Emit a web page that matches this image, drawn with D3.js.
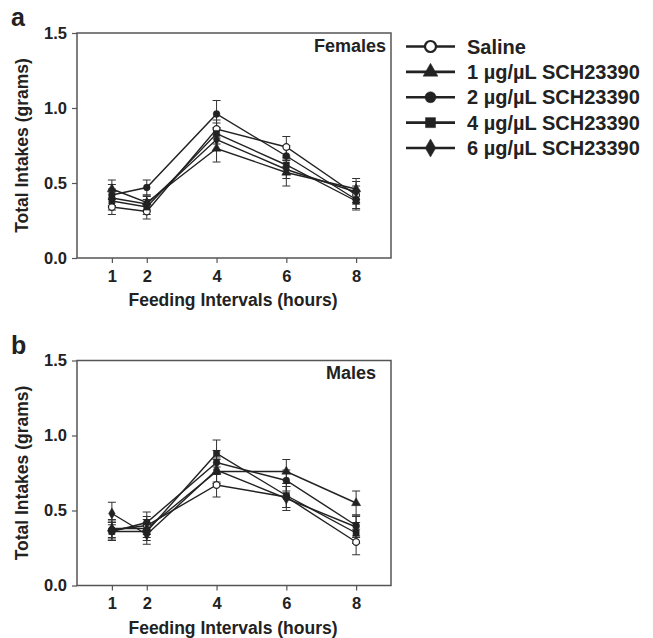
<!DOCTYPE html>
<html>
<head>
<meta charset="utf-8">
<script src="https://cdn.jsdelivr.net/npm/d3@7"></script>
<style>
  html, body { margin: 0; padding: 0; background: #fff; }
  svg { display: block; }
  text { font-family: "Liberation Sans", Arial, sans-serif; font-weight: bold; fill: #222; }
</style>
</head>
<body>
<svg id="chart" width="653" height="638"></svg>
<script>
// Data
const hours = [1, 2, 4, 6, 8];
const yTicks = [0, 0.5, 1.0, 1.5];
const seriesNames = ["Saline", "1 µg/µL SCH23390", "2 µg/µL SCH23390", "4 µg/µL SCH23390", "6 µg/µL SCH23390"];

// Females (panel a), one row per series
const femaleMeans = [
  [0.34, 0.31, 0.86, 0.74, 0.42],
  [0.46, 0.37, 0.73, 0.57, 0.46],
  [0.42, 0.47, 0.96, 0.68, 0.39],
  [0.38, 0.34, 0.83, 0.62, 0.38],
  [0.40, 0.36, 0.79, 0.59, 0.44]
];
const femaleErrors = [
  [0.05, 0.05, 0.06, 0.07, 0.06],
  [0.06, 0.05, 0.09, 0.09, 0.07],
  [0.07, 0.05, 0.09, 0.07, 0.06],
  [0.06, 0.05, 0.07, 0.06, 0.06],
  [0.06, 0.05, 0.07, 0.06, 0.07]
];

// Males (panel b)
const maleMeans = [
  [0.37, 0.40, 0.67, 0.59, 0.29],
  [0.38, 0.38, 0.76, 0.76, 0.55],
  [0.36, 0.42, 0.82, 0.70, 0.40],
  [0.36, 0.36, 0.88, 0.60, 0.35],
  [0.48, 0.34, 0.77, 0.58, 0.39]
];
const maleErrors = [
  [0.06, 0.06, 0.08, 0.07, 0.085],
  [0.06, 0.06, 0.08, 0.08, 0.08],
  [0.06, 0.07, 0.08, 0.07, 0.07],
  [0.06, 0.06, 0.09, 0.08, 0.07],
  [0.075, 0.065, 0.08, 0.08, 0.07]
];

// marker per series: open circle, triangle, circle, square, diamond
const SYMBOLS = [d3.symbolCircle, d3.symbolTriangle, d3.symbolCircle, d3.symbolSquare, d3.symbolDiamond];
const OPEN = [true, false, false, false, false];
const INK = "#222";

const svg = d3.select("#chart");

function drawPanel(opts) {
  const { top, letter, sex, means, errors, sexRight } = opts;
  const left = 77, right = 391, height = 225;

  const x = d3.scaleLinear().domain([0, 9]).range([left, right]);
  const y = d3.scaleLinear().domain([0, 1.5]).range([top + height, top]);

  const g = svg.append("g");

  // frame
  g.append("rect")
    .attr("x", left).attr("y", top)
    .attr("width", right - left).attr("height", height)
    .attr("fill", "none").attr("stroke", "#555").attr("stroke-width", 1.5);

  // axes
  const yAxis = g.append("g")
    .attr("transform", `translate(${left},0)`)
    .call(d3.axisLeft(y).tickValues(yTicks).tickFormat(d3.format(".1f")).tickSize(5).tickPadding(5));
  const xAxis = g.append("g")
    .attr("transform", `translate(0,${top + height})`)
    .call(d3.axisBottom(x).tickValues(hours).tickSize(5).tickPadding(7));
  [xAxis, yAxis].forEach(a => {
    a.select(".domain").remove();
    a.selectAll("line").attr("stroke", "#555").attr("stroke-width", 1.2);
    a.selectAll("text").attr("font-size", 16.5).attr("fill", INK)
      .attr("font-family", "'Liberation Sans', Arial, sans-serif").attr("font-weight", "bold");
  });

  // axis titles
  g.append("text")
    .attr("x", 233).attr("y", top + height + 48)
    .attr("text-anchor", "middle").attr("font-size", 17.5)
    .text("Feeding Intervals (hours)");
  g.append("text")
    .attr("transform", `translate(28,${top + height / 2}) rotate(-90)`)
    .attr("text-anchor", "middle").attr("font-size", 17.5)
    .text("Total Intakes (grams)");

  // panel letter + sex label
  g.append("text").attr("x", 11).attr("y", top - 7)
    .attr("font-size", 25).text(letter);
  g.append("text").attr("x", sexRight).attr("y", top + 18.5)
    .attr("text-anchor", "end").attr("font-size", 18).text(sex);

  const line = d3.line().x((d, i) => x(hours[i])).y(d => y(d));

  // lines
  g.selectAll(".series-line")
    .data(means)
    .join("path")
    .attr("class", "series-line")
    .attr("d", d => line(d))
    .attr("fill", "none")
    .attr("stroke", INK)
    .attr("stroke-width", 1.4);

  // error bars
  means.forEach((row, s) => {
    const pts = row.map((m, i) => ({ h: hours[i], m, e: errors[s][i] }));
    const eb = g.append("g");
    eb.selectAll("line.v").data(pts).join("line").attr("class", "v")
      .attr("x1", d => x(d.h)).attr("x2", d => x(d.h))
      .attr("y1", d => y(d.m + d.e)).attr("y2", d => y(d.m - d.e))
      .attr("stroke", "#333").attr("stroke-width", 1);
    ["top", "bot"].forEach(k => {
      eb.selectAll("line." + k).data(pts).join("line").attr("class", k)
        .attr("x1", d => x(d.h) - 4).attr("x2", d => x(d.h) + 4)
        .attr("y1", d => y(k === "top" ? d.m + d.e : d.m - d.e))
        .attr("y2", d => y(k === "top" ? d.m + d.e : d.m - d.e))
        .attr("stroke", "#333").attr("stroke-width", 1);
    });
  });

  // markers
  means.forEach((row, s) => {
    const sym = d3.symbol().type(SYMBOLS[s]).size(SYMBOLS[s] === d3.symbolSquare ? 38 : 36);
    g.append("g").selectAll("path")
      .data(row)
      .join("path")
      .attr("transform", (d, i) => `translate(${x(hours[i])},${y(d)})`)
      .attr("d", sym)
      .attr("fill", OPEN[s] ? "#fff" : INK)
      .attr("stroke", INK)
      .attr("stroke-width", OPEN[s] ? 1.2 : 0.5);
  });
}

drawPanel({ top: 33, letter: "a", sex: "Females", sexRight: 386, means: femaleMeans, errors: femaleErrors });
drawPanel({ top: 360.5, letter: "b", sex: "Males", sexRight: 376, means: maleMeans, errors: maleErrors });

// legend
const legendY = d3.scalePoint().domain(seriesNames).range([46.5, 148]);
const legend = svg.append("g");
seriesNames.forEach((name, s) => {
  const yy = legendY(name);
  legend.append("line")
    .attr("x1", 406).attr("x2", 455).attr("y1", yy).attr("y2", yy)
    .attr("stroke", INK).attr("stroke-width", 2.6);
  legend.append("path")
    .attr("transform", `translate(430.5,${yy})`)
    .attr("d", d3.symbol().type(SYMBOLS[s]).size(SYMBOLS[s] === d3.symbolSquare ? 100 : 95))
    .attr("fill", OPEN[s] ? "#fff" : INK)
    .attr("stroke", INK)
    .attr("stroke-width", OPEN[s] ? 2.2 : 0.5);
  legend.append("text")
    .attr("x", 467).attr("y", yy)
    .attr("dy", "0.36em")
    .attr("font-size", 20)
    .text(name);
});
</script>
</body>
</html>
